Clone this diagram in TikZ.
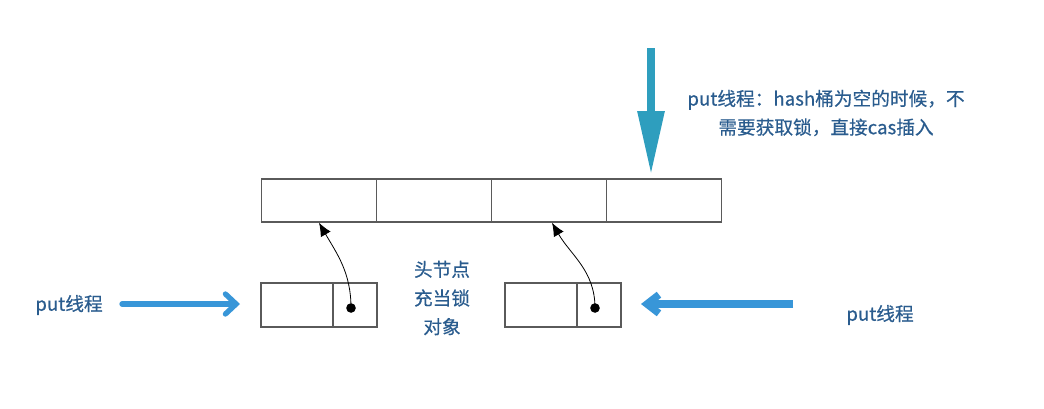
\documentclass[tikz,border=0pt]{standalone}
\usepackage{fontspec}
\setmainfont{Noto Sans CJK SC}
\newfontfamily\labelfont[FakeBold=0.6]{Noto Sans CJK SC}
\usetikzlibrary{arrows.meta}
\definecolor{txtblue}{RGB}{42,92,142}
\definecolor{arrowblue}{RGB}{56,150,216}
\definecolor{arrowteal}{RGB}{46,158,190}
\definecolor{boxgray}{RGB}{90,90,90}
\tikzset{
  cell/.style={draw=boxgray, line width=1.1pt, minimum width=86.25pt, minimum height=32.25pt, inner sep=0pt},
  keycell/.style={cell, minimum width=54pt, minimum height=33pt},
  ptrcell/.style={cell, minimum width=33pt, minimum height=33pt},
  label/.style={text=txtblue, font=\labelfont\fontsize{14}{21.5}\selectfont, align=center, inner sep=0pt},
  ptr/.style={-{Latex[length=10pt,width=8.5pt]}, line width=0.6pt},
}
\begin{document}
\begin{tikzpicture}[x=0.75pt, y=-0.75pt]
  \useasboundingbox (0,0) rectangle (1044,408);
  % hash table
  \node[cell] (c1) at (319, 200.5) {};
  \node[cell] (c2) at (434, 200.5) {};
  \node[cell] (c3) at (549, 200.5) {};
  \node[cell] (c4) at (664, 200.5) {};

  % head nodes
  \node[keycell] (ka) at (297, 305) {};
  \node[ptrcell] (pa) at (355, 305) {};
  \node[keycell] (kb) at (541, 305) {};
  \node[ptrcell] (pb) at (599, 305) {};
  \fill (351, 308) circle (3.6pt) coordinate (da);
  \fill (595, 308) circle (3.6pt) coordinate (db);
  \draw[ptr] (da) to[out=90, in=-60] (c1.south);
  \draw[ptr] (db) to[out=90, in=-60] ([xshift=2.25pt]c3.south);

  \node[label] (lock) at (442, 298) {头节点\\充当锁\\对象};

  % put threads
  \node[label] (putl) at (69, 305) {put线程};
  \node[label] (putr) at (880, 315) {put线程};
  \node[label] (putt) at (826, 113) {put线程：hash桶为空的时候，不\\需要获取锁，直接cas插入};

  \coordinate (ls) at (122, 304);
  \coordinate (le) at (240, 304);
  \draw[arrowblue, line width=4pt, line cap=round,
        -{Straight Barb[length=8pt, width=15pt, line cap=round]}] (ls) -- (le);

  \coordinate (rs) at (793, 304);
  \coordinate (re) at (641, 304);
  \draw[arrowblue, line width=5.5pt,
        -{Straight Barb[length=9pt, width=14pt]}] (rs) -- (re);

  \coordinate (ts) at (651, 48);
  \coordinate (te) at (651, 175);
  \draw[arrowteal, line width=6pt,
        -{Triangle[length=48pt, width=19pt]}] (ts) -- (te);
\end{tikzpicture}
\end{document}
